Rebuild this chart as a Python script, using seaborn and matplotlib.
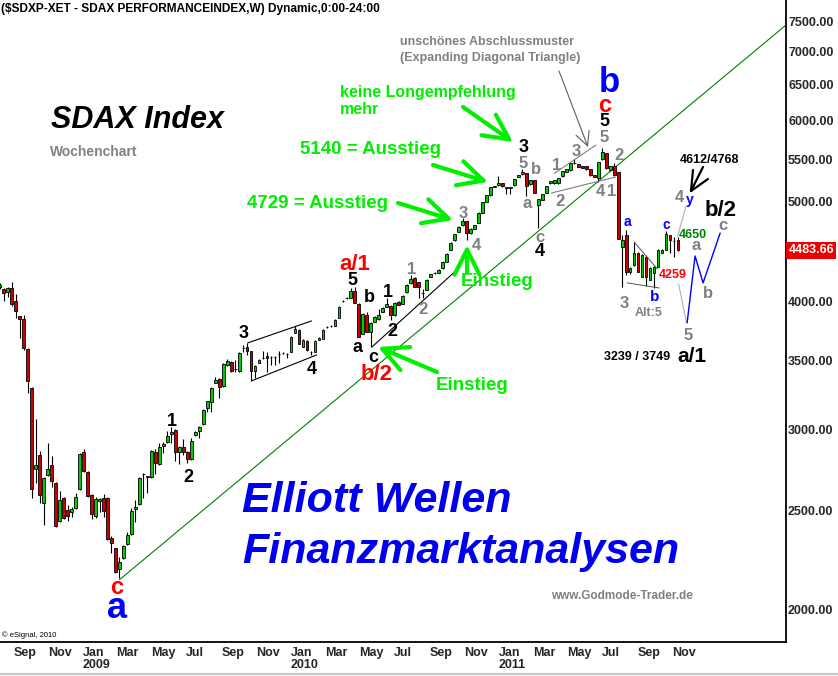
import numpy as np
import pandas as pd
import matplotlib
matplotlib.use("Agg")
import matplotlib.pyplot as plt
import matplotlib.dates as mdates
from matplotlib.ticker import FixedLocator, NullLocator
import seaborn as sns

sns.set_style("white")
plt.rcParams["font.family"] = ["Liberation Sans", "DejaVu Sans"]

# weekly SDAX candles, first week ending 2008-08-08
first_week = "2008-08-08"
opens = [4130, 4111, 4083, 4120, 4002, 3869, 3843, 3593, 3293, 2745,
         2833, 2544, 2708, 2770, 2660, 2443, 2572, 2504, 2493, 2516,
         2625, 2852, 2727, 2590, 2470, 2556, 2572, 2572, 2352, 2299,
         2193, 2248, 2320, 2372, 2510, 2538, 2712, 2700, 2696, 2852,
         2776, 2890, 2917, 2970, 2996, 2852, 2884, 2852, 2807, 2963,
         2990, 3037, 3148, 3191, 3330, 3360, 3308, 3466, 3490, 3436,
         3420, 3598, 3609, 3577, 3420, 3483, 3520, 3538, 3528, 3532,
         3551, 3561, 3554, 3569, 3725, 3750, 3609, 3659, 3571, 3569,
         3667, 3675, 3774, 3784, 3784, 3852, 4000, 4025, 4029, 4093,
         3975, 3717, 3878, 3734, 3818, 3843, 3904, 3948, 3957, 3878,
         3993, 3975, 4083, 4167, 4214, 4176, 4074, 4102, 4223, 4260,
         4262, 4309, 4368, 4487, 4588, 4672, 4746, 4788, 4661, 4704,
         4767, 4876, 4997, 5076, 5173, 5190, 5213, 5167, 5160, 5190,
         5284, 5320, 5332, 5201, 5249, 4963, 5019, 5099, 5213, 5213,
         5213, 5296, 5344, 5368, 5450, 5441, 5417, 5417, 5380, 5308,
         5272, 5502, 5577, 5368, 5417, 5344, 4517, 4640, 4271, 4338,
         4457, 4223, 4417, 4195, 4261, 4319, 4457, 4487, 4640, 4578,
         4588]
highs = [4170, 4120, 4125, 4176, 4065, 3870, 3878, 3600, 3300, 3071,
         2859, 2696, 2910, 2826, 2665, 2613, 2575, 2533, 2521, 2601,
         2845, 2871, 2733, 2595, 2578, 2570, 2596, 2575, 2362, 2300,
         2253, 2315, 2383, 2516, 2561, 2696, 2720, 2702, 2865, 2871,
         2910, 2917, 2990, 3016, 3000, 2890, 2937, 2855, 2943, 2990,
         3020, 3140, 3200, 3300, 3375, 3365, 3480, 3514, 3495, 3506,
         3566, 3626, 3642, 3580, 3465, 3510, 3577, 3569, 3535, 3535,
         3580, 3570, 3560, 3697, 3784, 3755, 3672, 3663, 3575, 3663,
         3688, 3755, 3785, 3790, 3840, 3953, 4008, 4035, 4120, 4130,
         3980, 3892, 3904, 3815, 3865, 3930, 3945, 4029, 3962, 3990,
         3998, 4052, 4153, 4243, 4218, 4180, 4111, 4200, 4256, 4268,
         4295, 4373, 4452, 4563, 4655, 4730, 4821, 4793, 4710, 4750,
         4881, 5002, 5081, 5172, 5185, 5294, 5218, 5170, 5170, 5266,
         5312, 5380, 5336, 5254, 5254, 5035, 5092, 5183, 5242, 5254,
         5277, 5361, 5385, 5458, 5502, 5446, 5420, 5420, 5385, 5312,
         5470, 5640, 5582, 5422, 5453, 5350, 4640, 4693, 4320, 4567,
         4462, 4442, 4422, 4314, 4324, 4492, 4492, 4682, 4645, 4619,
         4619]
lows = [4110, 4002, 4038, 3957, 3852, 3684, 3585, 3256, 2572, 2660,
        2544, 2421, 2702, 2637, 2410, 2438, 2454, 2443, 2465, 2510,
        2620, 2727, 2578, 2454, 2459, 2493, 2465, 2340, 2274, 2173,
        2150, 2244, 2315, 2368, 2437, 2533, 2572, 2601, 2690, 2714,
        2770, 2846, 2910, 2910, 2795, 2776, 2833, 2782, 2800, 2955,
        2943, 3030, 3120, 3120, 3325, 3220, 3300, 3460, 3415, 3412,
        3415, 3569, 3545, 3345, 3367, 3478, 3515, 3412, 3467, 3465,
        3482, 3550, 3522, 3565, 3720, 3630, 3605, 3580, 3545, 3565,
        3663, 3670, 3768, 3778, 3780, 3848, 3995, 4020, 4025, 3980,
        3688, 3712, 3730, 3609, 3814, 3838, 3900, 3944, 3835, 3872,
        3962, 3970, 4078, 4160, 4125, 4029, 4029, 4097, 4218, 4255,
        4258, 4304, 4363, 4482, 4583, 4668, 4740, 4588, 4655, 4700,
        4762, 4870, 4992, 5070, 5168, 5185, 5173, 5087, 5087, 5185,
        5280, 5315, 5064, 5196, 5094, 4714, 5014, 5094, 5208, 5208,
        5208, 5290, 5340, 5363, 5445, 5400, 5388, 5375, 5303, 5280,
        5226, 5497, 5387, 5363, 5303, 4594, 4130, 4237, 4255, 4333,
        4266, 4218, 4139, 4190, 4120, 4314, 4452, 4482, 4457, 4417,
        4480]
closes = [4150, 4074, 4120, 3975, 3913, 3843, 3601, 3345, 2625, 2770,
          2590, 2690, 2745, 2672, 2415, 2561, 2459, 2470, 2510, 2578,
          2839, 2733, 2584, 2481, 2567, 2567, 2498, 2346, 2325, 2178,
          2228, 2310, 2367, 2498, 2521, 2690, 2716, 2696, 2859, 2782,
          2884, 2903, 2957, 2983, 2852, 2884, 2852, 2807, 2923, 2983,
          3016, 3134, 3198, 3293, 3352, 3300, 3474, 3498, 3420, 3432,
          3561, 3602, 3577, 3420, 3459, 3506, 3524, 3522, 3530, 3529,
          3554, 3564, 3552, 3692, 3759, 3634, 3667, 3585, 3569, 3659,
          3684, 3750, 3778, 3786, 3835, 3948, 4002, 4029, 4093, 3984,
          3692, 3887, 3734, 3810, 3860, 3878, 3940, 3975, 3878, 3984,
          3966, 4047, 4148, 4205, 4130, 4130, 4078, 4195, 4252, 4264,
          4290, 4368, 4447, 4558, 4650, 4724, 4788, 4661, 4704, 4746,
          4876, 4997, 5076, 5167, 5178, 5213, 5178, 5156, 5164, 5261,
          5308, 5344, 5178, 5249, 5099, 5030, 5087, 5178, 5237, 5249,
          5272, 5356, 5380, 5453, 5455, 5405, 5392, 5380, 5308, 5284,
          5466, 5590, 5392, 5417, 5308, 4598, 4588, 4271, 4309, 4457,
          4271, 4437, 4223, 4309, 4319, 4487, 4487, 4650, 4588, 4580,
          4483.66]
last_price = 4483.66

# drawn analysis lines (dates, prices)
trend_dates = ["2009-03-06", "2012-05-18"]
trend_prices = [2140, 7430]
chan_up_dates = ["2009-10-17", "2010-02-06"]
chan_up_prices = [3642, 3826]
chan_lo_dates = ["2009-10-24", "2010-02-15"]
chan_lo_prices = [3345, 3545]
wave2_dates = ["2010-05-23", "2010-10-15"]
wave2_prices = [3609, 4271]
diag_up_dates = ["2011-04-08", "2011-06-20"]
diag_up_prices = [5328, 5678]
diag_lo_dates = ["2011-04-03", "2011-07-24"]
diag_lo_prices = [5099, 5284]
tri_up_dates = ["2011-08-26", "2011-10-06"]
tri_up_prices = [4567, 4299]
tri_lo_dates = ["2011-08-14", "2011-10-09"]
tri_lo_prices = [4167, 4120]
alt_up_dates = ["2011-11-10", "2011-11-25"]
alt_up_prices = [4619, 4952]
alt_dn_dates = ["2011-11-12", "2011-11-26"]
alt_dn_prices = [4158, 3810]
proj_dates = ["2011-11-27", "2011-12-11", "2011-12-25", "2012-01-24"]
proj_prices = [3810, 4427, 4167, 4661]

y_ticks = [2000, 2500, 3000, 3500, 4000, 5000, 5500, 6000, 6500, 7000, 7500]

W, H = 838, 676
AX_W, AX_H = 786, 642
GRAY = "#808080"
BLUE = "#0000FF"
RED = "#FF0000"
LIME = "#00EE00"

o = np.array(opens, float)
h = np.array(highs, float)
l = np.array(lows, float)
c = np.array(closes, float)
dates = pd.date_range(first_week, periods=len(o), freq="7D")
xd = mdates.date2num(dates)
base = mdates.date2num(pd.Timestamp("2009-01-01"))


def dn(lst):
    return mdates.date2num(pd.to_datetime(lst))


fig = plt.figure(figsize=(W / 100, H / 100), dpi=100)
ax = fig.add_axes([0, 1 - AX_H / H, AX_W / W, AX_H / H])
ax.set_yscale("log")
ax.set_ylim(1861, 7864)
ax.set_xlim(base - 145.6, base + 1233.5)

# trend line
sns.lineplot(x=dn(trend_dates), y=trend_prices, ax=ax, color="#008000", lw=0.8, zorder=1)

# candles
ax.vlines(xd, l, h, color="black", lw=0.8, zorder=2)
up = c >= o
ax.bar(xd[up], np.maximum(c - o, 0.5)[up], bottom=o[up], width=4.8, color="#00CC00",
       edgecolor="black", linewidth=0.6, zorder=3)
ax.bar(xd[~up], (o - c)[~up], bottom=c[~up], width=4.8, color="#CC0000",
       edgecolor="black", linewidth=0.6, zorder=3)

# analysis lines
for dd, pp, col, lw in [(chan_up_dates, chan_up_prices, "black", 0.8),
                        (chan_lo_dates, chan_lo_prices, "black", 0.8),
                        (wave2_dates, wave2_prices, "black", 0.8),
                        (diag_up_dates, diag_up_prices, GRAY, 0.8),
                        (diag_lo_dates, diag_lo_prices, GRAY, 0.8),
                        (tri_up_dates, tri_up_prices, "#505050", 0.7),
                        (tri_lo_dates, tri_lo_prices, "#505050", 0.7),
                        (alt_up_dates, alt_up_prices, "#B0B0B0", 0.8),
                        (alt_dn_dates, alt_dn_prices, "#B0B0B0", 0.8)]:
    ax.plot(dn(dd), pp, color=col, lw=lw, zorder=4)
sns.lineplot(x=dn(proj_dates), y=proj_prices, ax=ax, color=BLUE, lw=1.0, sort=False, zorder=4)

# axes styling
for s in ["left", "top"]:
    ax.spines[s].set_visible(False)
for s in ["right", "bottom"]:
    ax.spines[s].set_color("black")
    ax.spines[s].set_linewidth(1.3)

ax.yaxis.tick_right()
ax.yaxis.set_major_locator(FixedLocator(y_ticks))
ax.yaxis.set_minor_locator(NullLocator())
ax.set_yticklabels([f"{v:.2f}" for v in y_ticks], fontsize=9, fontweight="bold")
ax.tick_params(axis="y", length=0, pad=1.5)

tick_dates = pd.date_range("2008-09-01", "2011-11-01", freq="2MS")
tick_labels = [d.strftime("%b") + (f"\n{d.year}" if d.month == 1 else "") for d in tick_dates]
ax.set_xticks(mdates.date2num(tick_dates))
ax.xaxis.set_minor_locator(NullLocator())
ax.set_xticklabels(tick_labels, ha="left", fontsize=9, fontweight="bold", linespacing=1.05)
ax.tick_params(axis="x", length=0, pad=3.5)
ax.set_xlabel("")
ax.set_ylabel("")

# last price box
ax.text(1.003, last_price, f"{last_price:.2f}", transform=ax.get_yaxis_transform(),
        ha="left", va="center", fontsize=9, fontweight="bold", color="white",
        bbox=dict(boxstyle="square,pad=0.2", fc="#EE0000", ec="none"), clip_on=False)


def pos(x, y):
    return (x / AX_W, 1 - y / AX_H)


def put(x, y, s, color, size, weight="bold", style="normal", ha="center", va="center"):
    ax.text(*pos(x, y), s, transform=ax.transAxes, color=color, fontsize=size,
            fontweight=weight, fontstyle=style, ha=ha, va=va, zorder=6)


# header / branding texts
put(1, 9, "($SDXP-XET - SDAX PERFORMANCEINDEX,W) Dynamic,0:00-24:00", "black", 8.6, ha="left")
put(137, 120, "SDAX Index", "black", 22, style="italic")
put(50, 152, "Wochenchart", GRAY, 10, ha="left")
put(242, 512, "Elliott Wellen", "#0000EE", 31, style="italic", ha="left", va="baseline")
put(242, 563, "Finanzmarktanalysen", "#0000EE", 31, style="italic", ha="left", va="baseline")
put(551, 596, "www.Godmode-Trader.de", GRAY, 8.5, ha="left")
put(2, 635, "\u00a9 eSignal, 2010", "black", 5.5, weight="normal", ha="left")
put(400, 42, "unsch\u00f6nes Abschlussmuster", GRAY, 9, ha="left")
put(400, 58, "(Expanding Diagonal Triangle)", GRAY, 9, ha="left")

# green comments
put(340, 92, "keine Longempfehlung", LIME, 11.5, ha="left")
put(340, 110, "mehr", LIME, 11.5, ha="left")
put(300, 149, "5140 = Ausstieg", LIME, 13.5, ha="left")
put(247, 203, "4729 = Ausstieg", LIME, 13.5, ha="left")
put(497, 281, "Einstieg", LIME, 13.5)
put(472, 386, "Einstieg", LIME, 13.5)

green_arrows = [((463, 107), (513, 142)), ((433, 165), (488, 182)),
                ((398, 203), (453, 220)), ((467, 272), (467, 245)),
                ((437, 372), (378, 347))]
for start, tip in green_arrows:
    ax.annotate("", xy=pos(*tip), xytext=pos(*start), xycoords="axes fraction",
                textcoords="axes fraction",
                arrowprops=dict(arrowstyle="->,head_length=0.9,head_width=0.45",
                                color=LIME, lw=3, mutation_scale=20,
                                shrinkA=0, shrinkB=0), zorder=5)

ax.annotate("", xy=pos(588, 147), xytext=pos(559, 71), xycoords="axes fraction",
            textcoords="axes fraction",
            arrowprops=dict(arrowstyle="->,head_length=0.5,head_width=0.25",
                            color="#606060", lw=0.8, mutation_scale=20,
                            shrinkA=0, shrinkB=0), zorder=5)

# black arrow towards 4612/4768
tip = pos(691, 191)
for end in [(693, 170), (703, 167), (708, 179)]:
    e = pos(*end)
    ax.plot([e[0], tip[0]], [e[1], tip[1]], transform=ax.transAxes, color="black", lw=1.6, zorder=5)

# wave counts
wave_labels = [
    (172, 422, "1", "black", 13), (188, 478, "2", "black", 13),
    (244, 334, "3", "black", 13), (312, 370, "4", "black", 13),
    (352, 280, "5", "black", 13), (355, 264, "a/1", RED, 16),
    (369, 298, "b", "black", 13), (357, 348, "a", "black", 13),
    (373, 358, "c", "black", 13), (377, 375, "b/2", RED, 16),
    (388, 292, "1", "black", 13), (392, 332, "2", "black", 13),
    (412, 269, "1", GRAY, 12), (423, 309, "2", GRAY, 12),
    (463, 213, "3", GRAY, 12), (476, 246, "4", GRAY, 12),
    (524, 148, "3", "black", 13), (523, 163, "5", GRAY, 12),
    (536, 169, "b", GRAY, 12), (527, 203, "a", GRAY, 12),
    (540, 238, "c", GRAY, 12), (540, 252, "4", "black", 13),
    (557, 165, "1", GRAY, 12), (560, 202, "2", GRAY, 12),
    (576, 152, "3", GRAY, 12), (604, 138, "5", GRAY, 12),
    (604, 121, "5", "black", 13), (605, 105, "c", RED, 17),
    (609, 82, "b", BLUE, 25), (619, 156, "2", GRAY, 12),
    (600, 192, "4", GRAY, 12), (612, 192, "1", GRAY, 12),
    (627, 222, "a", BLUE, 10), (624, 303, "3", GRAY, 12),
    (655, 297, "b", BLUE, 11), (649, 313, "Alt:5", GRAY, 9),
    (673, 275, "4259", RED, 9), (666, 225, "c", BLUE, 10),
    (693, 235, "4650", "#008000", 9), (679, 197, "4", GRAY, 12),
    (690, 200, "y", BLUE, 10), (696, 246, "a", GRAY, 12),
    (721, 211, "b/2", "black", 16), (723, 226, "c", GRAY, 12),
    (708, 294, "b", GRAY, 12), (688, 336, "5", GRAY, 12),
    (637, 357, "3239 / 3749", "black", 9), (692, 357, "a/1", "black", 15),
    (709, 160, "4612/4768", "black", 9),
    (117, 588, "c", RED, 17), (117, 608, "a", BLUE, 26),
]
for x, y, s, col, size in wave_labels:
    put(x, y, s, col, size)

fig.add_artist(plt.Line2D([0, 1], [1 - 674 / H, 1 - 674 / H], transform=fig.transFigure,
                          color="#C8C8C8", lw=1.5))

fig.savefig("out.png", dpi=100)
